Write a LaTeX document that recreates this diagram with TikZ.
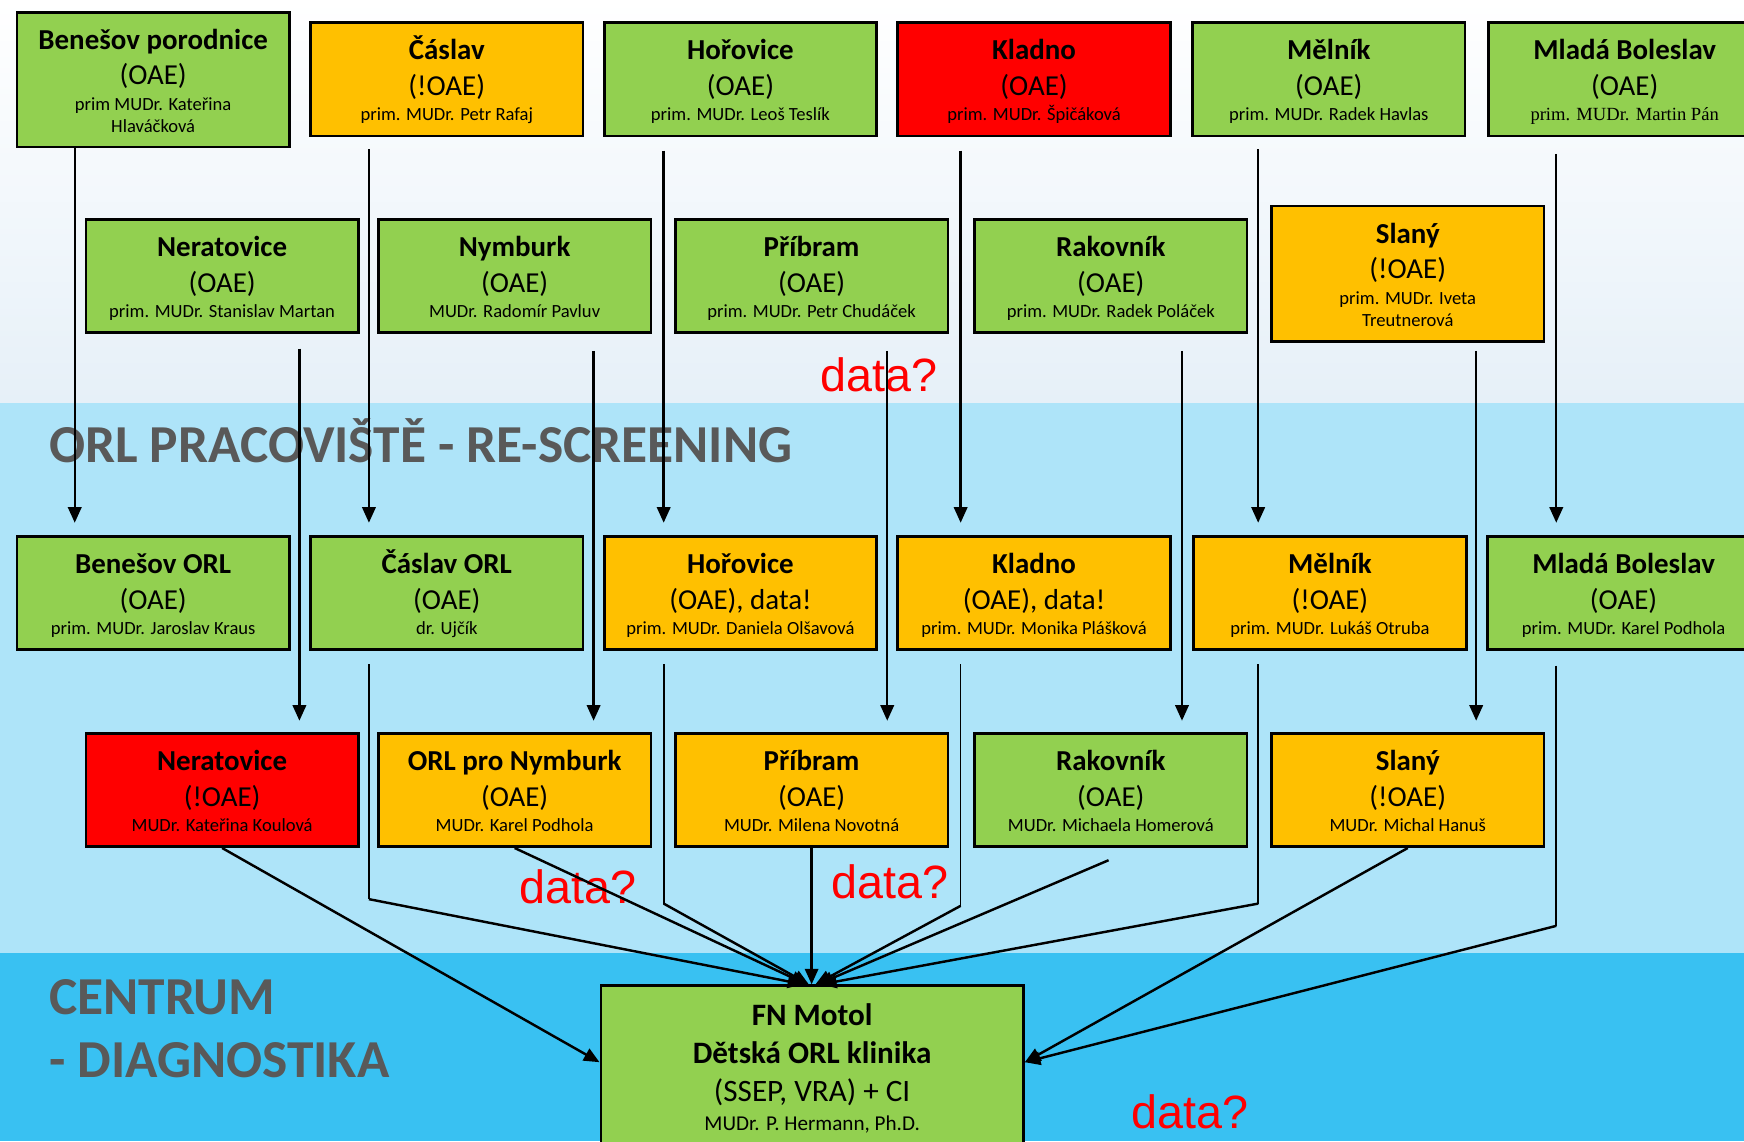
\documentclass[tikz,border=0pt]{standalone}
\usepackage{fontspec}
\setmainfont{Carlito}
\newfontfamily\arialf{Liberation Sans}
\newfontfamily\timesf{Liberation Serif}
\usetikzlibrary{arrows.meta,calc}
\definecolor{cgreen}{HTML}{92D050}
\definecolor{corange}{HTML}{FFC000}
\definecolor{cred}{HTML}{FF0000}
\definecolor{bandmid}{HTML}{AEE4F9}
\definecolor{bandlow}{HTML}{39C1F2}
\definecolor{bandtop}{HTML}{E6F0F8}
\definecolor{hdrgray}{HTML}{595959}
\newcommand{\ttl}[1]{\rule{0pt}{25pt}\textbf{#1}}
\newcommand{\smf}{\fontsize{16.7}{20}\selectfont}
\newcommand{\sml}[1]{{\smf #1\rule[-5pt]{0pt}{5pt}}}
\tikzset{
  box/.style={draw=black, line width=2.4pt, minimum width=245pt, minimum height=102pt,
    inner sep=0pt, align=center, font=\fontsize{26}{32}\selectfont, anchor=north west},
  gbox/.style={box, fill=cgreen},
  obox/.style={box, fill=corange},
  rbox/.style={box, fill=cred},
  hdr/.style={font=\fontsize{48}{57}\selectfont\bfseries, text=hdrgray, inner sep=0pt, anchor=base west},
  datal/.style={font=\arialf\fontsize{42}{42}\selectfont, text=red, inner sep=0pt},
  arr/.style={line width=2.2pt, -{Triangle[length=14pt,width=12pt]}},
  downarr/.style={arr, shorten >=11pt},
  thinl/.style={line width=1.5pt},
}
\begin{document}
\begin{tikzpicture}[x=1pt,y=-1pt]
\useasboundingbox (0,0) rectangle (1568,1026);
\clip (0,0) rectangle (1568,1026);
% background bands
\fill[top color=white, bottom color=bandtop] (0,0) rectangle (1568,362);
\fill[bandmid] (0,362) rectangle (1568,857);
\fill[bandlow] (0,857) rectangle (1568,1026);
% headers
\node[hdr] (h1) at (44,416) {ORL PRACOVIŠTĚ - RE-SCREENING};
\node[hdr] (h2) at (44,912) {CENTRUM};
\node[hdr] (h3) at (44,969) {- DIAGNOSTIKA};
% data labels
\node[datal] (d1) at (790,337) {data?};
\node[datal] (d2) at (520,797) {data?};
\node[datal] (d3) at (800,793) {data?};
\node[datal] (d4) at (1070,1000) {data?};
% row 1
\node[gbox, minimum height=121pt] (t1) at (14,10) {\ttl{Benešov porodnice}\\(OAE)\\[-9pt]{\smf prim MUDr. Kateřina}\\[-12pt]\sml{Hlaváčková}};
\node[obox] (t2) at (278,19) {\ttl{Čáslav}\\(!OAE)\\[-9pt]\sml{prim. MUDr. Petr Rafaj}};
\node[gbox] (t3) at (542,19) {\ttl{Hořovice}\\(OAE)\\[-9pt]\sml{prim. MUDr. Leoš Teslík}};
\node[rbox] (t4) at (806,19) {\ttl{Kladno}\\(OAE)\\[-9pt]\sml{prim. MUDr. Špičáková}};
\node[gbox] (t5) at (1071,19) {\ttl{Mělník}\\(OAE)\\[-9pt]\sml{prim. MUDr. Radek Havlas}};
\node[gbox] (t6) at (1337,19) {\ttl{Mladá Boleslav}\\(OAE)\\[-9pt]\sml{\timesf prim. MUDr. Martin Pán}};
% row 2
\node[gbox] (m1) at (76,196) {\ttl{Neratovice}\\(OAE)\\[-9pt]\sml{prim. MUDr. Stanislav Martan}};
\node[gbox] (m2) at (339,196) {\ttl{Nymburk}\\(OAE)\\[-9pt]\sml{MUDr. Radomír Pavluv}};
\node[gbox] (m3) at (606,196) {\ttl{Příbram}\\(OAE)\\[-9pt]\sml{prim. MUDr. Petr Chudáček}};
\node[gbox] (m4) at (875,196) {\ttl{Rakovník}\\(OAE)\\[-9pt]\sml{prim. MUDr. Radek Poláček}};
\node[obox, minimum height=122pt] (m5) at (1142,184) {\ttl{Slaný}\\(!OAE)\\[-9pt]{\smf prim. MUDr. Iveta}\\[-12pt]\sml{Treutnerová}};
% row 3
\node[gbox] (o1) at (14,481) {\ttl{Benešov ORL}\\(OAE)\\[-9pt]\sml{prim. MUDr. Jaroslav Kraus}};
\node[gbox] (o2) at (278,481) {\ttl{Čáslav ORL}\\(OAE)\\[-9pt]\sml{dr. Ujčík}};
\node[obox] (o3) at (542,481) {\ttl{Hořovice}\\(OAE), data!\\[-9pt]\sml{prim. MUDr. Daniela Olšavová}};
\node[obox] (o4) at (806,481) {\ttl{Kladno}\\(OAE), data!\\[-9pt]\sml{prim. MUDr. Monika Plášková}};
\node[obox] (o5) at (1072,481) {\ttl{Mělník}\\(!OAE)\\[-9pt]\sml{prim. MUDr. Lukáš Otruba}};
\node[gbox] (o6) at (1336,481) {\ttl{Mladá Boleslav}\\(OAE)\\[-9pt]\sml{prim. MUDr. Karel Podhola}};
% row 4
\node[rbox] (l1) at (76,658) {\ttl{Neratovice}\\(!OAE)\\[-9pt]\sml{MUDr. Kateřina Koulová}};
\node[obox] (l2) at (339,658) {\ttl{ORL pro Nymburk}\\(OAE)\\[-9pt]\sml{MUDr. Karel Podhola}};
\node[obox] (l3) at (606,658) {\ttl{Příbram}\\(OAE)\\[-9pt]\sml{MUDr. Milena Novotná}};
\node[gbox] (l4) at (875,658) {\ttl{Rakovník}\\(OAE)\\[-9pt]\sml{MUDr. Michaela Homerová}};
\node[obox] (l5) at (1142,658) {\ttl{Slaný}\\(!OAE)\\[-9pt]\sml{MUDr. Michal Hanuš}};
% centre
\node[gbox, minimum width=380pt, minimum height=154pt, font=\fontsize{28}{34}\selectfont] (fm) at (539,885)
  {\rule{0pt}{27pt}\textbf{FN Motol}\\\textbf{Dětská ORL klinika}\\(SSEP, VRA) + CI\\[-8pt]{\fontsize{19}{22}\selectfont MUDr. P. Hermann, Ph.D.\rule[-15pt]{0pt}{15pt}}};
% arrows row1 -> row3
\draw[downarr] (t1.south) ++(-70.5,0) coordinate (a1) -- (a1 |- o1.north);
\draw[downarr] (t2.south) ++(-70,11) coordinate (a2) -- (a2 |- o2.north);
\draw[downarr] (t3.south) ++(-69,12) coordinate (a3) -- (a3 |- o3.north);
\draw[downarr] (t4.south) ++(-66,12) coordinate (a4) -- (a4 |- o4.north);
\draw[downarr] (t5.south) ++(-63.5,11) coordinate (a5) -- (a5 |- o5.north);
\draw[downarr] (t6.south) ++(-61.5,15) coordinate (a6) -- (a6 |- o6.north);
% arrows row2 -> row4
\draw[downarr, shorten >=10pt] (m1.south) ++(69.5,13) coordinate (b1) -- (b1 |- l1.north);
\draw[downarr, shorten >=10pt] (m2.south) ++(71,15) coordinate (b2) -- (b2 |- l2.north);
\draw[downarr, shorten >=10pt] (m3.south) ++(68,15) coordinate (b3) -- (b3 |- l3.north);
\draw[downarr, shorten >=10pt] (m4.south) ++(64,15) coordinate (b4) -- (b4 |- l4.north);
\draw[downarr, shorten >=10pt] (m5.south) ++(61.5,7) coordinate (b5) -- (b5 |- l5.north);
% to centre
\draw[arr] (l1.south) -- ($(fm.north west)+(0,70)$);
\draw[arr] (l2.south) -- ($(fm.north)+(-5,0)$);
\draw[thinl] (o2.south) ++(-70,12) coordinate (c2) -- ++(0,211) coordinate (e2);
\draw[arr] (e2) -- ($(fm.north)+(-8,0)$);
\draw[thinl] (o3.south) ++(-69,12) coordinate (c3) -- ++(0,215) coordinate (e3);
\draw[arr] (e3) -- ($(fm.north)+(-3,0)$);
\draw[arr] (l3.south) -- (l3.south |- fm.north);
\draw[thinl] (o4.south) ++(-66,12) coordinate (c4) -- ++(0,217) coordinate (e4);
\draw[arr] (e4) -- ($(fm.north)+(3,0)$);
\draw[arr] (l4.south) ++(-2,11) coordinate (f4) -- ($(fm.north)+(5,0)$);
\draw[thinl] (o5.south) ++(-64.5,12) coordinate (c5) -- ++(0,215) coordinate (e5);
\draw[arr] (e5) -- ($(fm.north)+(8,0)$);
\draw[arr] (l5.south) -- ($(fm.north east)+(0,70)$);
\draw[thinl] (o6.south) ++(-60.5,13) coordinate (c6) -- ++(0,234) coordinate (e6);
\draw[arr] (e6) -- ($(fm.north east)+(0,70)$);
\end{tikzpicture}
\end{document}
